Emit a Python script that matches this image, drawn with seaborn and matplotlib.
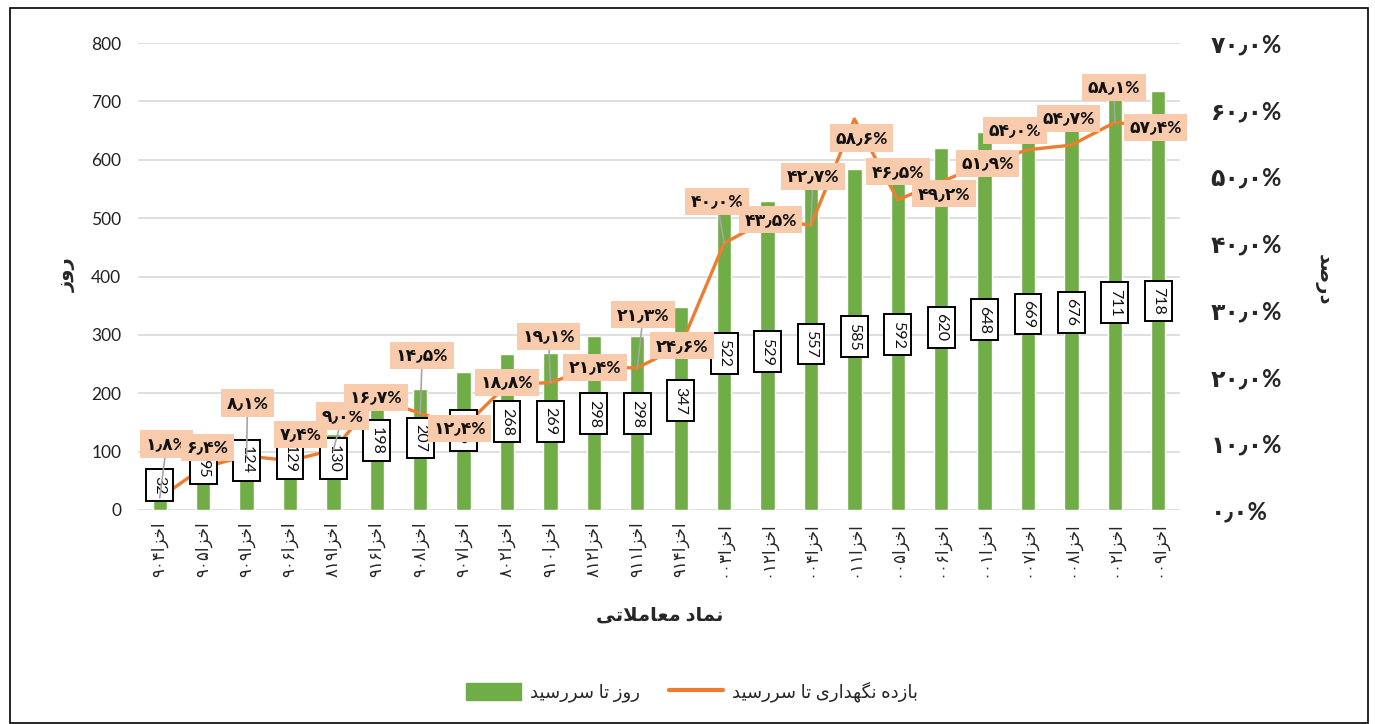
import re
import numpy as np
import pandas as pd
import seaborn as sns
import matplotlib.pyplot as plt
from matplotlib.patches import Rectangle, Patch
from matplotlib.lines import Line2D

# data
symbols = ['اخزا۹۰۴', 'اخزا۹۰۵', 'اخزا۹۰۹', 'اخزا۹۰۶', 'اخزا۸۱۹', 'اخزا۹۱۶',
           'اخزا۹۰۸', 'اخزا۹۰۷', 'اخزا۸۰۲', 'اخزا۹۱۰', 'اخزا۸۱۲', 'اخزا۹۱۱',
           'اخزا۹۱۴', 'اخزا۰۰۳', 'اخزا۰۱۲', 'اخزا۰۰۴', 'اخزا۰۱۱', 'اخزا۰۰۵',
           'اخزا۰۰۶', 'اخزا۰۰۱', 'اخزا۰۰۷', 'اخزا۰۰۸', 'اخزا۰۰۲', 'اخزا۰۰۹']
days = [32, 95, 124, 129, 130, 198, 207, 236, 268, 269, 298, 298, 347,
        522, 529, 557, 585, 592, 620, 648, 669, 676, 711, 718]
ytm = [1.8, 6.4, 8.1, 7.4, 9.0, 16.7, 14.5, 12.4, 18.8, 19.1, 21.4, 21.3, 24.6,
       40.0, 43.5, 42.7, 58.6, 46.5, 49.2, 51.9, 54.0, 54.7, 58.1, 57.4]

# label offsets (pixels) of the percentage boxes
lab_dx = [7, 4, 1, 11, 9, -1, 2, -4, 0, -2, 1, 6, 1, -7, 3, 2, 7, 0, 3, 3, -13, -3, -1, -3]
lab_dy = [54, 20, 53, 26, 34, 1, 58, -1, 2, 46, 0, 53, 0, 42, 0, 49, -19, 28, -12, 0, 19, 27, 35, 0]

GREEN = '#70AD47'
ORANGE = '#ED7D31'
PEACH = '#F8CBAD'

# --- minimal persian shaping (matplotlib has no bidi / joining) ---
FORMS = {  # isolated, final, initial, medial
    'ا': ('\uFE8D', '\uFE8E', None, None),
    'ب': ('\uFE8F', '\uFE90', '\uFE91', '\uFE92'),
    'ت': ('\uFE95', '\uFE96', '\uFE97', '\uFE98'),
    'خ': ('\uFEA5', '\uFEA6', '\uFEA7', '\uFEA8'),
    'د': ('\uFEA9', '\uFEAA', None, None),
    'ر': ('\uFEAD', '\uFEAE', None, None),
    'ز': ('\uFEAF', '\uFEB0', None, None),
    'س': ('\uFEB1', '\uFEB2', '\uFEB3', '\uFEB4'),
    'ص': ('\uFEB9', '\uFEBA', '\uFEBB', '\uFEBC'),
    'ع': ('\uFEC9', '\uFECA', '\uFECB', '\uFECC'),
    'ل': ('\uFEDD', '\uFEDE', '\uFEDF', '\uFEE0'),
    'م': ('\uFEE1', '\uFEE2', '\uFEE3', '\uFEE4'),
    'ن': ('\uFEE5', '\uFEE6', '\uFEE7', '\uFEE8'),
    'ه': ('\uFEE9', '\uFEEA', '\uFEEB', '\uFEEC'),
    'و': ('\uFEED', '\uFEEE', None, None),
    'ی': ('\uFBFC', '\uFBFD', '\uFBFE', '\uFBFF'),
    'گ': ('\uFB92', '\uFB93', '\uFB94', '\uFB95'),
    'لا': ('\uFEFB', '\uFEFC', None, None),
}


def shape(s):
    chars = []
    i = 0
    while i < len(s):
        if s[i] == 'ل' and i + 1 < len(s) and s[i + 1] == 'ا':
            chars.append('لا')
            i += 2
        else:
            chars.append(s[i])
            i += 1
    out = []
    for k, c in enumerate(chars):
        if c not in FORMS:
            out.append(c)
            continue
        prev = chars[k - 1] if k > 0 else None
        nxt = chars[k + 1] if k + 1 < len(chars) else None
        join_prev = prev in FORMS and FORMS[prev][2] is not None
        join_next = nxt in FORMS and FORMS[c][2] is not None
        iso, fin, ini, med = FORMS[c]
        if join_prev and join_next:
            out.append(med)
        elif join_prev:
            out.append(fin)
        elif join_next:
            out.append(ini)
        else:
            out.append(iso)
    return ''.join(out)


def rtl(s):
    runs = re.findall(r'[0-9۰-۹٫%]+|[^0-9۰-۹٫%]+', shape(s))
    out = []
    for r in reversed(runs):
        out.append(r if re.match(r'[0-9۰-۹٫%]', r) else r[::-1])
    return ''.join(out)


def fa_num(x, fmt='{:.1f}'):
    return fmt.format(x).translate(str.maketrans('0123456789.', '۰۱۲۳۴۵۶۷۸۹٫'))


df = pd.DataFrame({'symbol': symbols, 'days': days, 'ytm': ytm, 'pos': np.arange(len(symbols))})

sns.set_theme(style='white')
plt.rcParams['font.family'] = ['Lato', 'DejaVu Sans']

W, H = 1375, 724
fig = plt.figure(figsize=(W / 100, H / 100), dpi=100)
ax = fig.add_axes([138 / W, 1 - 510 / H, (1180 - 138) / W, (510 - 43) / H])

sns.barplot(data=df, x='symbol', y='days', color=GREEN, saturation=1, width=0.33, ax=ax, zorder=2)
ax.set_ylim(0, 800)
ax.set_xlim(-0.5, len(symbols) - 0.5)
ax.set_yticks(range(0, 801, 100))
ax.grid(axis='y', color='#D9D9D9', lw=1.2, zorder=0)
ax.set_axisbelow(True)
for s in ax.spines.values():
    s.set_visible(False)
ax.tick_params(axis='y', length=0, labelsize=12.5, labelcolor='#222222', pad=12)
ax.set_xticks(range(len(symbols)))
ax.set_xticklabels([rtl(s) for s in symbols], rotation=90, fontsize=12)
ax.tick_params(axis='x', length=0, pad=8)
ax.set_xlabel('')
ax.set_ylabel('')

ax2 = ax.twinx()
sns.lineplot(data=df, x='pos', y='ytm', color=ORANGE, lw=2.4, sort=False, ax=ax2)
ax2.set_ylim(0, 70)
ax2.set_yticks(range(0, 71, 10))
ax2.set_yticklabels([fa_num(v) + '%' for v in range(0, 71, 10)], fontsize=17, fontweight='bold')
ax2.tick_params(axis='y', length=0, pad=22)
for s in ax2.spines.values():
    s.set_visible(False)
ax2.set_xlabel('')
ax2.set_ylabel('')
for lab in ax2.get_yticklabels():
    lab.set_horizontalalignment('left')

# value boxes (days)
for i, v in enumerate(days):
    ax2.text(i, 28 + 0.46 * v, str(v), transform=ax.transData, rotation=270,
             ha='center', va='center', fontsize=11.5, color='#111111', zorder=5,
             bbox=dict(boxstyle='square,pad=0.4', fc='white', ec='black', lw=1.4))

# percentage boxes
for i, p in enumerate(ytm):
    dx, dy = lab_dx[i], lab_dy[i]
    arrow = None
    if abs(dy) > 30:
        arrow = dict(arrowstyle='-', color='#A5A5A5', lw=1.2, shrinkA=0, shrinkB=0)
    ax2.annotate(fa_num(p) + '%', xy=(i, p), xytext=(dx, dy), textcoords='offset pixels',
                 ha='center', va='center', fontsize=12.5, fontweight='bold', color='#111111',
                 zorder=6, arrowprops=arrow,
                 bbox=dict(boxstyle='square,pad=0.32', fc=PEACH, ec='none'))

# axis titles
fig.text(67 / W, 1 - 275 / H, rtl('روز'), rotation=90, ha='center', va='center',
         fontsize=14, fontweight='bold')
fig.text(1322 / W, 1 - 280 / H, rtl('درصد'), rotation=270, ha='center', va='center',
         fontsize=14, fontweight='bold')
fig.text(660 / W, 1 - 615 / H, rtl('نماد معاملاتی'), ha='center', va='center',
         fontsize=14, fontweight='bold')

handles = [Patch(color=GREEN), Line2D([0], [0], color=ORANGE, lw=3)]
labels = [rtl('روز تا سررسید'), rtl('بازده نگهداری تا سررسید')]
fig.legend(handles, labels, loc='center', bbox_to_anchor=(692 / W, 1 - 692 / H), ncol=2,
           frameon=False, fontsize=13, handlelength=3.0, handleheight=1.1,
           handletextpad=0.5, columnspacing=1.6)

fig.add_artist(Rectangle((10 / W, 1 / H), (1368 - 10) / W, (723 - 8) / H, transform=fig.transFigure,
                         fill=False, ec='black', lw=1.2))

fig.savefig('out.png', dpi=100)
